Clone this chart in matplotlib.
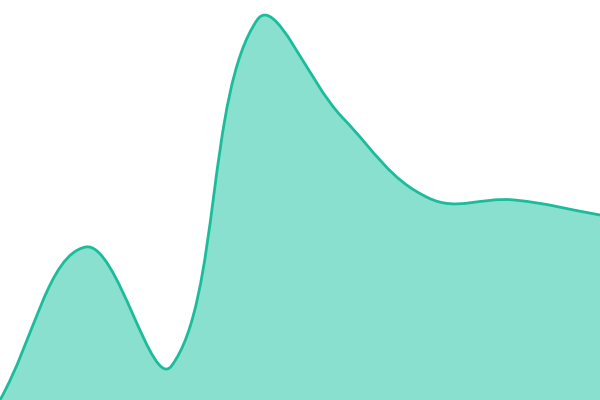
import numpy as np
import matplotlib
matplotlib.use("Agg")
import matplotlib.pyplot as plt
from matplotlib.path import Path
from matplotlib.patches import PathPatch

# values (one point per category)
categories = [0, 1, 2, 3, 4, 5, 6, 7]
values = [0, 153, 34, 380, 282, 202, 200, 185]

line_color = "#1abc9c"
fill_color = "#8ae0cf"
tension = 0.4

fig = plt.figure(figsize=(6, 4), dpi=100)
ax = fig.add_axes([0, 0, 1, 1])
ax.set_xlim(0, 7)
ax.set_ylim(0, 400)
ax.axis("off")

# spline control points, chart.js style (distances in pixel space)
pts = ax.transData.transform(np.column_stack([categories, values]))
n = len(pts)
verts = [tuple(pts[0])]
codes = [Path.MOVETO]
cps = []
for i in range(n):
    p0 = pts[max(i - 1, 0)]
    p1 = pts[i]
    p2 = pts[min(i + 1, n - 1)]
    d01 = np.hypot(*(p1 - p0))
    d12 = np.hypot(*(p2 - p1))
    tot = d01 + d12 if d01 + d12 > 0 else 1
    fa = tension * d01 / tot
    fb = tension * d12 / tot
    cps.append((p1 - fa * (p2 - p0), p1 + fb * (p2 - p0)))
for i in range(1, n):
    verts += [tuple(cps[i - 1][1]), tuple(cps[i][0]), tuple(pts[i])]
    codes += [Path.CURVE4] * 3

inv = ax.transData.inverted()
verts = [tuple(inv.transform(v)) for v in verts]

line_path = Path(verts, codes)
fill_path = Path(verts + [(categories[-1], 0), (categories[0], 0), verts[0]],
                 codes + [Path.LINETO, Path.LINETO, Path.CLOSEPOLY])

ax.add_patch(PathPatch(fill_path, facecolor=fill_color, edgecolor="none"))
ax.add_patch(PathPatch(line_path, facecolor="none", edgecolor=line_color,
                       linewidth=2.0, capstyle="round", joinstyle="round"))

fig.savefig("out.png", dpi=100)
